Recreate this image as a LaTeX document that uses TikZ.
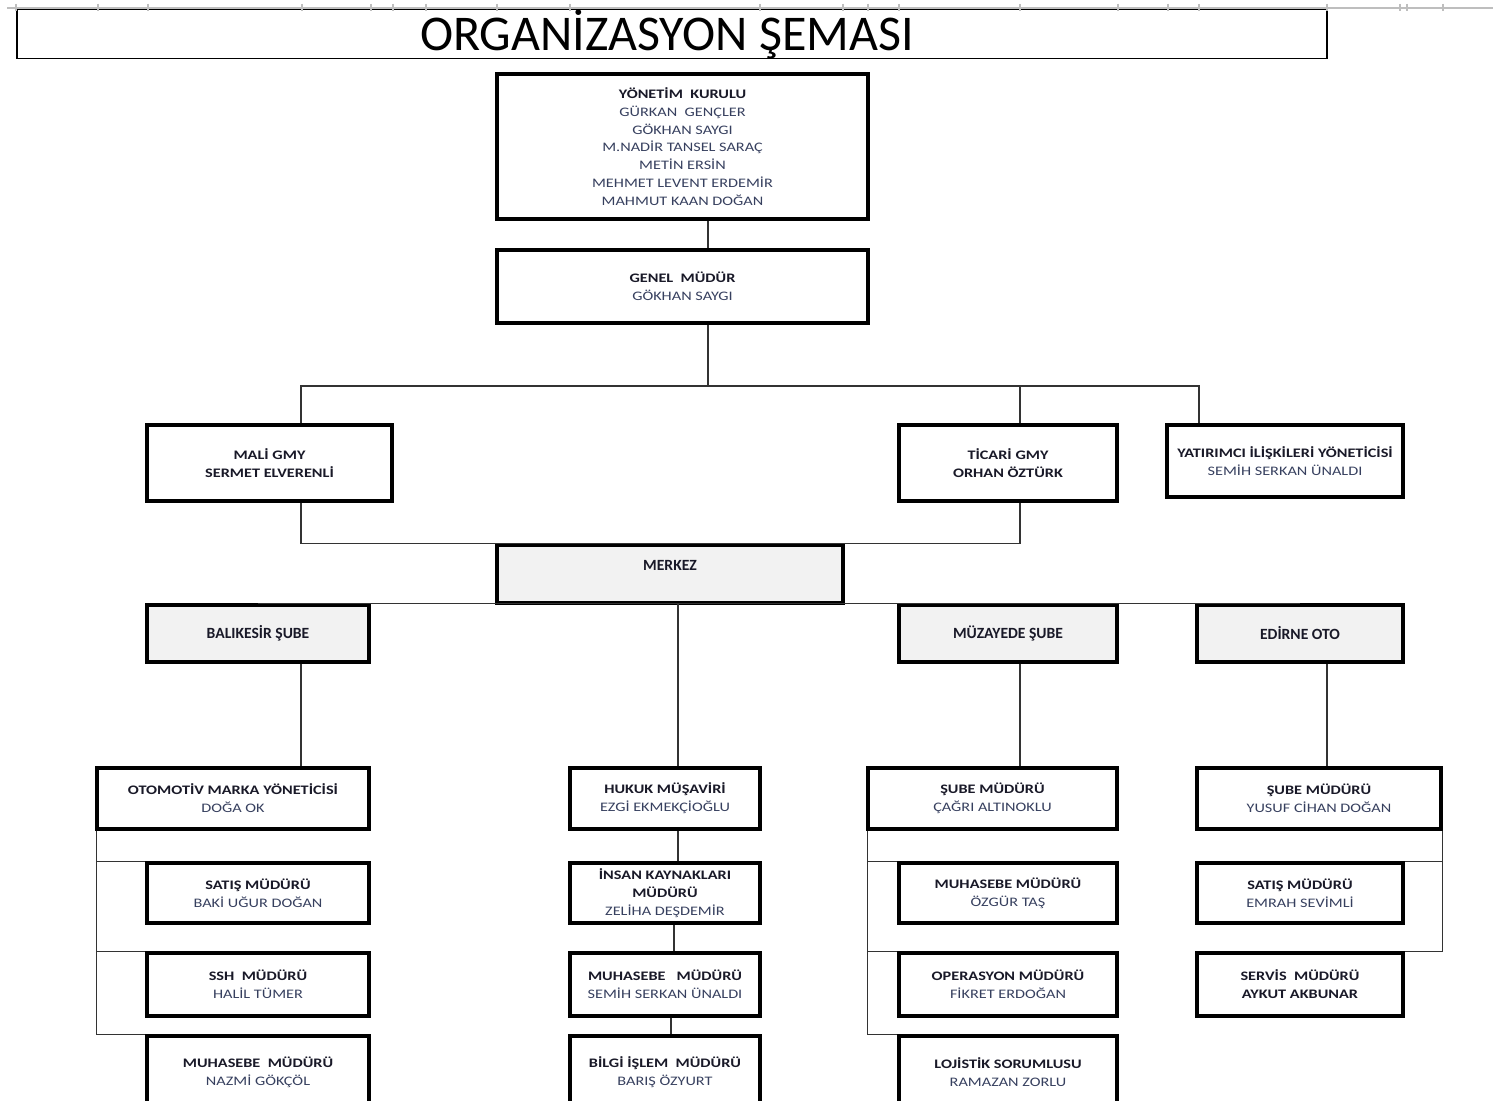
\documentclass[tikz,border=0pt]{standalone}
\usepackage{fontspec}
\setmainfont{Carlito}
\newfontfamily\cellfont[FakeStretch=1.25]{Carlito}

\definecolor{headcol}{RGB}{25,25,40}
\definecolor{namecol}{RGB}{55,64,95}
\definecolor{cellgray}{RGB}{242,242,242}
\definecolor{gridgray}{RGB}{190,190,190}

\newcommand{\boxhead}[1]{{\bfseries\color{headcol}#1}}
\newcommand{\boxname}[1]{{\color{namecol}#1}}

\tikzset{
	unitbox/.style={draw=black, line width=1.6pt, fill=white, inner sep=0pt, align=center,
		font=\cellfont\fontsize{6.5}{8.9}\selectfont},
	branchbox/.style={unitbox, fill=cellgray, font=\bfseries\fontsize{7.8}{9}\selectfont\color{headcol}},
	sz/.style 2 args={minimum width=#1*0.5pt, minimum height=#2*0.5pt},
	conn/.style={draw=black!80, line width=0.75pt},
	titlebox/.style={draw=black, line width=0.9pt, inner sep=0pt, sz={1310}{48},
		font=\fontsize{25}{28}\selectfont},
}

\begin{document}
\begin{tikzpicture}[x=0.5pt,y=-0.5pt]
			\useasboundingbox (0,0) rectangle (1506,1101);
			\fill[white] (0,0) rectangle (1506,1101);
			\clip (0,0) rectangle (1506,1101);

			% title
			\node[titlebox] (title) at (672,34) {\raisebox{1pt}{ORGANİZASYON ŞEMASI}\hspace*{5pt}};
			\draw[gridgray, line width=1.2pt] (7,8) -- (1493,8);
			\foreach \tx in {16,98,148,302,371,393,426,497,570,760,843,868,899,1020,1118,1168,1199,1327,1400,1407,1443}
				\draw[gridgray, line width=0.6pt] (\tx,4) -- (\tx,11);

			% top levels
			\node[unitbox, sz={371}{145}] (yk) at (682.5,146.5) {\boxhead{YÖNETİM\ \ KURULU}\\
				\boxname{GÜRKAN\ \ GENÇLER}\\ \boxname{GÖKHAN SAYGI}\\ \boxname{M.NADİR TANSEL SARAÇ}\\
				\boxname{METİN ERSİN}\\ \boxname{MEHMET LEVENT ERDEMİR}\\ \boxname{MAHMUT KAAN DOĞAN}};
			\node[unitbox, sz={371}{73}] (gm) at (682.5,286.5) {\boxhead{GENEL\ \ MÜDÜR}\\ \boxname{GÖKHAN SAYGI}};
			\node[unitbox, sz={245}{76}] (mali) at (269.5,463) {\boxhead{MALİ GMY}\\ \boxhead{SERMET ELVERENLİ}};
			\node[unitbox, sz={218}{76}] (ticari) at (1008,463) {\boxhead{TİCARİ GMY}\\ \boxhead{ORHAN ÖZTÜRK}};
			\node[unitbox, sz={236}{72}] (yat) at (1285,461) {\boxhead{YATIRIMCI İLİŞKİLERİ YÖNETİCİSİ}\\ \boxname{SEMİH SERKAN ÜNALDI}};

			% branches
			\node[branchbox, sz={346}{58}] (merkez) at (670,574) {MERKEZ\\ \mbox{}};
			\node[branchbox, sz={222}{57}] (bal) at (258,633.5) {BALIKESİR ŞUBE};
			\node[branchbox, sz={218}{57}] (muz) at (1008,633.5) {MÜZAYEDE ŞUBE};
			\node[branchbox, sz={206}{57}] (edi) at (1300,633.5) {EDİRNE OTO};

			% balikesir column
			\node[unitbox, sz={272}{61}] (oto) at (233,798.5) {\boxhead{OTOMOTİV MARKA YÖNETİCİSİ}\\ \boxname{DOĞA OK}};
			\node[unitbox, sz={222}{60}] (satA) at (258,893) {\boxhead{SATIŞ MÜDÜRÜ}\\ \boxname{BAKİ UĞUR DOĞAN}};
			\node[unitbox, sz={222}{63}] (sshA) at (258,984.5) {\boxhead{SSH\ \ MÜDÜRÜ}\\ \boxname{HALİL TÜMER}};
			\node[unitbox, sz={222}{72}] (muhA) at (258,1072) {\boxhead{MUHASEBE\ \ MÜDÜRÜ}\\ \boxname{NAZMİ GÖKÇÖL}};

			% merkez column
			\node[unitbox, sz={190}{61}] (huk) at (665,798.5) {\boxhead{HUKUK MÜŞAVİRİ}\\ \boxname{EZGİ EKMEKÇİOĞLU}};
			\node[unitbox, sz={190}{60}] (ik) at (665,893) {\boxhead{İNSAN KAYNAKLARI}\\ \boxhead{MÜDÜRÜ}\\ \boxname{ZELİHA DEŞDEMİR}};
			\node[unitbox, sz={190}{63}] (muhB) at (665,984.5) {\boxhead{MUHASEBE\ \ \ MÜDÜRÜ}\\ \boxname{SEMİH SERKAN ÜNALDI}};
			\node[unitbox, sz={190}{72}] (bil) at (665,1072) {\boxhead{BİLGİ İŞLEM\ \ MÜDÜRÜ}\\ \boxname{BARIŞ ÖZYURT}};

			% muzayede column
			\node[unitbox, sz={249}{61}] (smC) at (992.5,798.5) {\boxhead{ŞUBE MÜDÜRÜ}\\ \boxname{ÇAĞRI ALTINOKLU}};
			\node[unitbox, sz={218}{60}] (muhC) at (1008,893) {\boxhead{MUHASEBE MÜDÜRÜ}\\ \boxname{ÖZGÜR TAŞ}};
			\node[unitbox, sz={218}{63}] (opeC) at (1008,984.5) {\boxhead{OPERASYON MÜDÜRÜ}\\ \boxname{FİKRET ERDOĞAN}};
			\node[unitbox, sz={218}{72}] (lojC) at (1008,1072) {\boxhead{LOJİSTİK SORUMLUSU}\\ \boxname{RAMAZAN ZORLU}};

			% edirne column
			\node[unitbox, sz={244}{61}] (smD) at (1319,798.5) {\boxhead{ŞUBE MÜDÜRÜ}\\ \boxname{YUSUF CİHAN DOĞAN}};
			\node[unitbox, sz={206}{60}] (satD) at (1300,893) {\boxhead{SATIŞ MÜDÜRÜ}\\ \boxname{EMRAH SEVİMLİ}};
			\node[unitbox, sz={206}{63}] (serD) at (1300,984.5) {\boxhead{SERVİS\ \ MÜDÜRÜ}\\ \boxhead{AYKUT AKBUNAR}};

			% connectors
			\coordinate (drop) at ([xshift=12.75pt]yk.south);
			\coordinate (bus) at (708,386);
			\coordinate (malix) at ([xshift=15.75pt]mali.north);
			\coordinate (ticx) at ([xshift=6pt]ticari.north);
			\coordinate (yatx) at ([xshift=-43pt]yat.north);
			\draw[conn] (drop) -- (drop |- gm.north);
			\draw[conn] (gm.south -| bus) -- (bus);
			\draw[conn] (malix) |- (bus) -| (ticx);
			\draw[conn] (bus) -| (yatx);
			\draw[conn] (malix |- mali.south) |- (merkez.north) -| (ticx |- ticari.south);

			\draw[conn] (bal.north) -- (edi.north);
			\coordinate (hukx) at ([xshift=6.5pt]huk.north);
			\coordinate (balx) at ([xshift=21.5pt]bal.south);
			\coordinate (muzx) at ([xshift=6pt]muz.south);
			\coordinate (edix) at ([xshift=13.5pt]edi.south);
			\draw[conn] (hukx |- bal.north) -- (hukx);
			\draw[conn] (balx) -- (balx |- oto.north);
			\draw[conn] (muzx) -- (muzx |- smC.north);
			\draw[conn] (edix) -- (edix |- smD.north);

			\draw[conn] (hukx |- huk.south) -- (hukx |- ik.north);
			\draw[conn] ([xshift=4.5pt]ik.south) -- ([xshift=4.5pt]muhB.north);
			\draw[conn] ([xshift=3pt]muhB.south) -- ([xshift=3pt]bil.north);

			\foreach \b in {satA,sshA,muhA}
				\draw[conn] ([xshift=0.5pt]oto.south west) |- (\b.north west);
			\foreach \b in {muhC,opeC,lojC}
				\draw[conn] ([xshift=0.5pt]smC.south west) |- (\b.north west);
			\foreach \b in {satD,serD}
				\draw[conn] (smD.south east) |- (\b.north east);
\end{tikzpicture}
\end{document}
